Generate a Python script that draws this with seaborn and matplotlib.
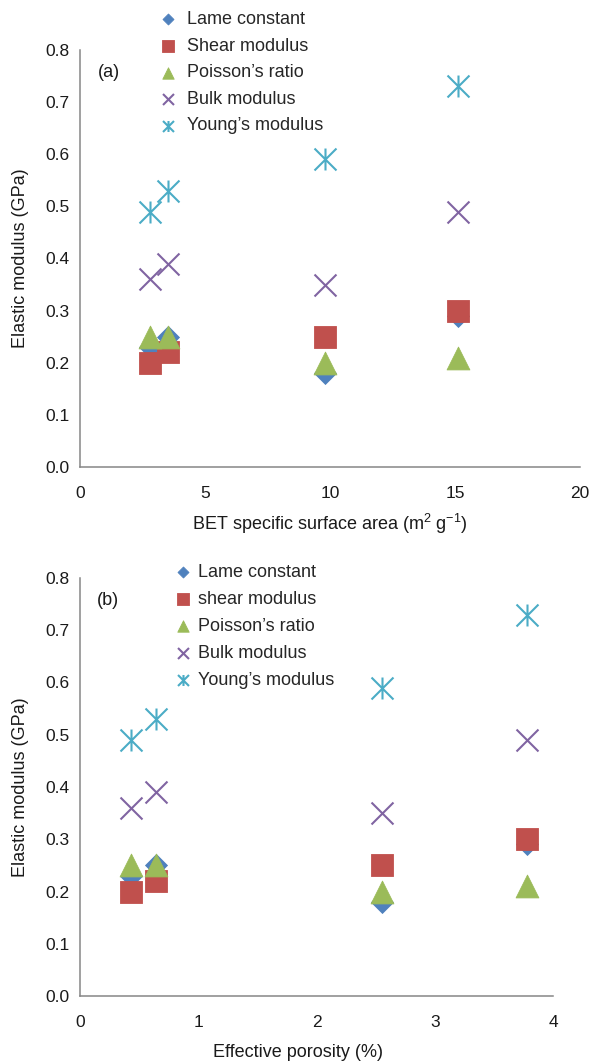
import matplotlib
matplotlib.use("Agg")
import matplotlib.pyplot as plt
from matplotlib.path import Path
import pandas as pd
import seaborn as sns

# values
bet_area = [2.8, 3.5, 9.8, 15.1]
porosity = [0.43, 0.64, 2.55, 3.78]
lame = [0.23, 0.25, 0.18, 0.29]
shear = [0.20, 0.22, 0.25, 0.30]
poisson = [0.25, 0.25, 0.20, 0.21]
bulk = [0.36, 0.39, 0.35, 0.49]
young = [0.49, 0.53, 0.59, 0.73]

labels_a = ["Lame constant", "Shear modulus", "Poisson\u2019s ratio",
            "Bulk modulus", "Young\u2019s modulus"]
labels_b = ["Lame constant", "shear modulus", "Poisson\u2019s ratio",
            "Bulk modulus", "Young\u2019s modulus"]
yticks = [0.0, 0.1, 0.2, 0.3, 0.4, 0.5, 0.6, 0.7, 0.8]

sns.set_style("white")
plt.rcParams["font.family"] = ["Liberation Sans", "DejaVu Sans"]
plt.rcParams["mathtext.default"] = "regular"

GREY = "#868686"
colors = ["#4F81BD", "#C0504D", "#9BBB59", "#8064A2", "#4BACC6"]
star = Path([(0, -0.5), (0, 0.5), (-0.5, -0.5), (0.5, 0.5), (-0.5, 0.5), (0.5, -0.5)],
            [Path.MOVETO, Path.LINETO, Path.MOVETO, Path.LINETO, Path.MOVETO, Path.LINETO])
markers = ["D", "s", "^", "x", star]
sizes = [125, 270, 270, 250, 250]
lws = [0.6, 0.6, 0.6, 1.5, 1.5]
series = [lame, shear, poisson, bulk, young]


def panel(ax, x, labels, xlim, xticks, xlabel, tag, leg_anchor, textpad, spacing):
    for vals, lab, col, mk, sz, lw in zip(series, labels, colors, markers, sizes, lws):
        df = pd.DataFrame({"x": x, "y": vals})
        sns.scatterplot(data=df, x="x", y="y", marker=mk, s=sz, color=col,
                        edgecolor=col, linewidth=lw, label=lab, ax=ax, zorder=3)
    ax.set_xlim(*xlim)
    ax.set_ylim(0, 0.8)
    ax.set_xticks(xticks)
    ax.set_yticks(yticks)
    ax.set_yticklabels([f"{t:.1f}" for t in yticks])
    for side in ["top", "right"]:
        ax.spines[side].set_visible(False)
    for side in ["left", "bottom"]:
        ax.spines[side].set_color(GREY)
        ax.spines[side].set_linewidth(1.1)
        ax.spines[side].set_zorder(1)
    ax.tick_params(axis="both", direction="out", length=5, width=1.1, color=GREY,
                   labelsize=12.5, labelcolor="#1a1a1a", pad=2.5)
    ax.tick_params(axis="x", pad=9)
    ax.set_xlabel(xlabel, fontsize=13, color="#1a1a1a")
    ax.set_ylabel("Elastic modulus (GPa)", fontsize=13, color="#1a1a1a", labelpad=12)
    ax.text(0.036, 0.947, tag, transform=ax.transAxes, fontsize=13,
            color="#1a1a1a", va="center", ha="left")
    ax.legend(loc="upper left", bbox_to_anchor=leg_anchor, frameon=False,
              fontsize=13, markerscale=0.5, handlelength=0.8,
              handletextpad=textpad, labelspacing=spacing, borderpad=0,
              borderaxespad=0)


fig = plt.figure(figsize=(5.91, 10.62), dpi=100)
ax1 = fig.add_axes([80 / 591, 1 - 467 / 1062, 500 / 591, 417 / 1062])
ax2 = fig.add_axes([80 / 591, 1 - 996 / 1062, 473 / 591, 418 / 1062])

panel(ax1, bet_area, labels_a, (0, 20), [0, 5, 10, 15, 20],
      "BET specific surface area (m$^{2}$ g$^{-1}$)", "(a)", (0.161, 1.093), 0.65, 0.53)
panel(ax2, porosity, labels_b, (0, 4), [0, 1, 2, 3, 4],
      "Effective porosity (%)", "(b)", (0.203, 1.034), 0.4, 0.55)
ax2.xaxis.set_label_coords(0.461, -0.115)
ax1.xaxis.set_label_coords(0.5, -0.108)

fig.savefig("out.png", dpi=100)
